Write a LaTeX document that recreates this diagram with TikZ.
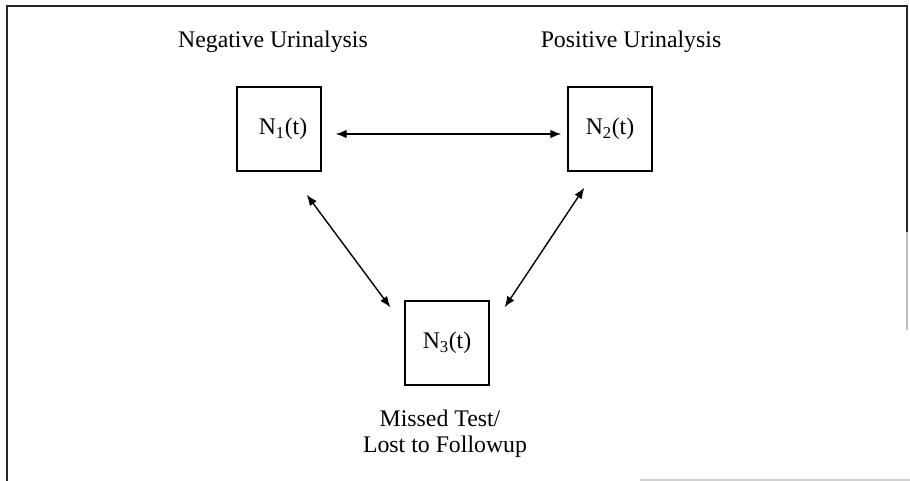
\documentclass[tikz,border=0pt]{standalone}
\usepackage{fontspec}
\setmainfont{Liberation Serif}
\usetikzlibrary{arrows.meta,calc}

\tikzset{
  statebox/.style={draw, line width=1.3pt, minimum width=84pt, minimum height=84pt,
    inner sep=0pt, font=\fontsize{23.8}{27}\selectfont},
  caption/.style={inner sep=0pt, font=\fontsize{23.8}{27}\selectfont, align=center},
  flow/.style={line width=1.4pt, {Latex[length=11pt,width=8.5pt]}-{Latex[length=11pt,width=8.5pt]}},
  frame/.style={line width=2pt, black!85}
}

\begin{document}
\begin{tikzpicture}[x=1pt,y=-1pt]
\useasboundingbox (0,0) rectangle (910,481);

% outer frame (open at the bottom, right side fading out)
\coordinate (fbl) at (7,481);
\coordinate (ftl) at (7,6.5);
\coordinate (ftr) at (907,6.5);
\coordinate (fr1) at (907,232);
\coordinate (fr2) at (907,330);
\draw[frame] (fbl) -- (ftl) -- (ftr) -- (fr1);
\draw[line width=1.5pt, black!25] (fr1) -- (fr2);
\coordinate (fb1) at (640,480);
\coordinate (fb2) at (910,480);
\draw[line width=1.5pt, black!18] (fb1) -- (fb2);

% states
\node[statebox] (n1) at (279,129) {\hspace*{8pt}N\textsubscript{1}(t)};
\node[statebox] (n2) at (610,129) {N\textsubscript{2}(t)};
\node[statebox] (n3) at (447,343) {N\textsubscript{3}(t)};

% state captions
\node[caption, anchor=base] (c1) at (273,48) {Negative Urinalysis};
\node[caption, anchor=base] (c2) at (631,48) {Positive Urinalysis};
\node[caption, anchor=base] (c3a) at (440,426) {Missed Test/};
\node[caption, anchor=base] (c3b) at (445,452) {Lost to Followup};

% transitions
\draw[flow, shorten <=14pt, shorten >=6pt] ([yshift=-5pt]n1.east) -- ([yshift=-5pt]n2.west);
\draw[flow] ($(n1.south east)+(-15,23)$) -- ($(n3.north west)+(-14,7)$);
\draw[flow] ($(n2.south west)+(17,16)$) -- ($(n3.north east)+(15,7)$);
\end{tikzpicture}
\end{document}
